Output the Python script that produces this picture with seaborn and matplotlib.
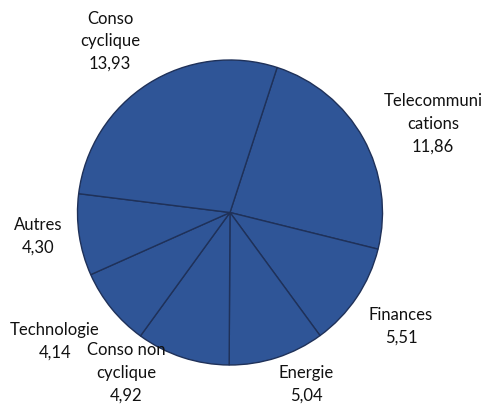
import matplotlib
matplotlib.use("Agg")
import matplotlib.pyplot as plt
import seaborn as sns

sns.set_theme(style="white")
plt.rcParams['font.family'] = ['Lato', 'DejaVu Sans']

# sector values, clockwise from Telecommunications
sectors = ['Telecommuni\ncations', 'Finances', 'Energie', 'Conso non\ncyclique',
           'Technologie', 'Autres', 'Conso\ncyclique']
values = [11.86, 5.51, 5.04, 4.92, 4.14, 4.30, 13.93]

# label anchor (pixel centres in the 485x406 image)
label_px = [(433, 124), (401, 326), (306, 384), (126, 373),
            (55, 341), (38, 236), (110, 41)]

W, H = 485, 406
fig = plt.figure(figsize=(W / 100, H / 100), dpi=100)
fig.patch.set_facecolor('white')

cx, cy, r = 230, 213.5, 152.5
ax = fig.add_axes([(cx - r) / W, (H - cy - r) / H, 2 * r / W, 2 * r / H])
ax.pie(values, startangle=72, counterclock=False, colors=['#2F5597'] * len(values),
       wedgeprops=dict(edgecolor='#1F3159', linewidth=1.0))
ax.set_xlim(-1, 1)
ax.set_ylim(-1, 1)
ax.axis('off')

for name, v, (px, py) in zip(sectors, values, label_px):
    txt = f"{name}\n{v:.2f}".replace('.', ',')
    fig.text(px / W, 1 - py / H, txt, ha='center', va='center',
             fontsize=12, color='#111111', linespacing=1.5)

fig.savefig('out.png', dpi=100, facecolor='white')
